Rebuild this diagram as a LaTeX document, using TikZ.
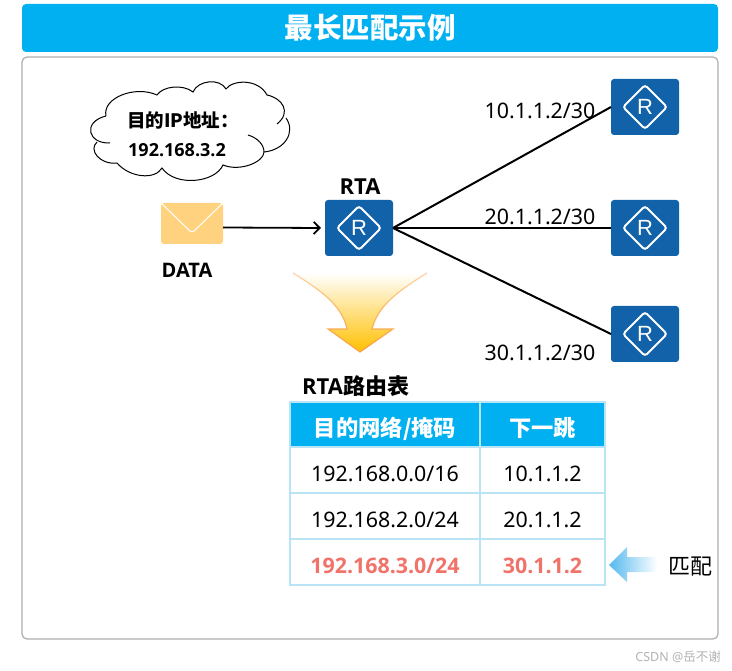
\documentclass[tikz,border=0pt]{standalone}
\usepackage{fontspec}
\setmainfont{Noto Sans}[BoldFont={Open Sans Bold}]
\newfontfamily\cjk{Noto Sans CJK SC}
\newfontfamily\arialf{Liberation Sans}
\usetikzlibrary{arrows.meta,fadings}
\definecolor{skyblue}{HTML}{00B0F0}
\definecolor{routerblue}{HTML}{1262A9}
\definecolor{mailyellow}{HTML}{FFD27F}
\definecolor{tableline}{HTML}{B8E4F5}
\definecolor{matchred}{HTML}{F0736A}
\definecolor{funnelgold}{HTML}{FFC000}
\definecolor{funnelline}{HTML}{F9A24A}
\definecolor{matchblue}{HTML}{55B9EE}
\tikzfading[name=funnelfade,top color=transparent!55,bottom color=transparent!0]
\tikzset{
 router/.style={fill=routerblue,rounded corners=3pt,minimum width=68pt,minimum height=56pt,inner sep=0pt,outer sep=0pt,text=white,font=\arialf\fontsize{22}{22}\selectfont,
  path picture={\draw[white,line width=2pt](path picture bounding box.center)+(-22,0)--+(0,-22)--+(22,0)--+(0,22)--cycle;}},
 iptext/.style={font=\fontsize{21.4}{21.4}\selectfont},
 cellbox/.style={draw=tableline,line width=2pt,inner sep=0pt,text height=23pt,text depth=0pt,font=\fontsize{21.4}{21.4}\selectfont},
 headbox/.style={cellbox,fill=skyblue,text=white,text height=24pt,font=\cjk\bfseries\fontsize{22.3}{22.3}\selectfont},
 redbox/.style={cellbox,text=matchred,font=\bfseries\fontsize{21.4}{21.4}\selectfont},
}
\begin{document}
\begin{tikzpicture}[x=1pt,y=-1pt]
\useasboundingbox(0,0)rectangle(732,671);
\node[fill=skyblue,rounded corners=4pt,minimum width=696pt,minimum height=48pt,inner sep=0pt,text=white,font=\cjk\bfseries\fontsize{28.5}{28.5}\selectfont](titlebar)at(370,28){最长匹配示例};
\node[draw=black!32,line width=1.2pt,rounded corners=5pt,minimum width=696pt,minimum height=582pt,inner sep=0pt](panel)at(370,348){};
\draw[line width=1pt](106,116).. controls (102,98) and (135,85) ..(157,95).. controls (163,86) and (183,84) ..(193,92).. controls (198,80) and (220,78) ..(226,89).. controls (232,80) and (258,78) ..(267,95).. controls (282,98) and (292,112) ..(277,124);
\draw[line width=1pt](286,118).. controls (296,132) and (285,150) ..(264,152);
\draw[line width=1pt](248,135).. controls (258,138) and (264,145) ..(264,152).. controls (264,162) and (240,172) ..(223,165).. controls (215,183) and (175,187) ..(162,168).. controls (155,180) and (130,178) ..(117,163).. controls (100,165) and (88,150) ..(97,142);
\draw[line width=1pt](110,143).. controls (88,144) and (82,122) ..(106,116);
\node[font=\cjk\bfseries\fontsize{18.5}{18.5}\selectfont](cloudtop)at(183,120){目的IP地址：};
\node[font=\bfseries\fontsize{18}{18}\selectfont](cloudip)at(177,150){192.168.3.2};
\node[fill=mailyellow,rounded corners=3pt,minimum width=62pt,minimum height=41pt,inner sep=0pt,outer sep=0pt,path picture={\draw[white,line width=1pt](path picture bounding box.north west)--([yshift=-9.5pt]path picture bounding box.center)--(path picture bounding box.north east);}](mail)at(192,223.5){};
\node[font=\bfseries\fontsize{20}{20}\selectfont](datatext)at(187,270){DATA};
\node[router](rta)at(359,228){R};\node[font=\bfseries\fontsize{22}{22}\selectfont](rtatext)at(360,187){RTA};
\node[router](r1)at(645,107){R};\node[router](r2)at(645,228){R};\node[router](r3)at(645,334){R};
\draw[line width=1.8pt,-{Straight Barb[length=6pt,width=12pt]}]([yshift=-4pt]mail.east)--([xshift=-4pt]rta.west);
\draw[line width=2pt](rta.east)--(r1.west);\draw[line width=2.8pt](rta.east)--(r2.west);\draw[line width=2pt](rta.east)--(r3.west);
\node[iptext](ip1)at(540,111){10.1.1.2/30};\node[iptext](ip2)at(540,217){20.1.1.2/30};\node[iptext](ip3)at(540,353){30.1.1.2/30};
\shade[top color=white,bottom color=funnelgold](293,273).. controls (320,290) and (342,305) ..(347,329)--(328,329)--(360,352)--(393,329)--(372,329).. controls (378,305) and (400,290) ..(427,273)--cycle;
\draw[funnelline,line width=1.2pt,path fading=funnelfade](293,273).. controls (320,290) and (342,305) ..(347,329)--(328,329)--(360,352)--(393,329)--(372,329).. controls (378,305) and (400,290) ..(427,273);
\node[anchor=west,font=\bfseries\fontsize{22}{22}\selectfont,inner sep=0pt](tabletitle)at(302,386){RTA{\cjk\bfseries 路由表}};
\node[headbox,minimum width=190pt,minimum height=45pt](h1)at(385,425){目的网络/掩码};
\node[headbox,minimum width=125pt,minimum height=45pt](h2)at(542.5,425){下一跳};
\node[cellbox,minimum width=190pt,minimum height=46pt](a1)at(385,470){192.168.0.0/16};
\node[cellbox,minimum width=125pt,minimum height=46pt](b1)at(542.5,470){10.1.1.2};
\node[cellbox,minimum width=190pt,minimum height=46pt](a2)at(385,516){192.168.2.0/24};
\node[cellbox,minimum width=125pt,minimum height=46pt](b2)at(542.5,516){20.1.1.2};
\node[redbox,minimum width=190pt,minimum height=46pt](a3)at(385,562){192.168.3.0/24};
\node[redbox,minimum width=125pt,minimum height=46pt](b3)at(542.5,562){30.1.1.2};
\shade[left color=matchblue,middle color=matchblue!25,right color=white](609,565)--(627,547)--(627,557)--(657,557)--(657,572)--(627,572)--(627,582)--cycle;
\node[font=\cjk\fontsize{22}{22}\selectfont](matchtext)at(690,567){匹配};
\node[text=black!30,font=\fontsize{12.5}{12.5}\selectfont,anchor=east,inner sep=0pt](mark)at(721,657){CSDN @{\cjk 岳不谢}};
\end{tikzpicture}
\end{document}
